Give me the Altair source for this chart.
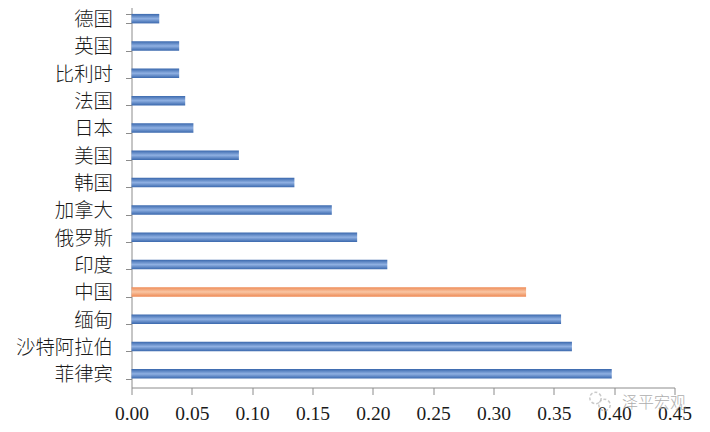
import altair as alt
import pandas as pd

categories = ["德国", "英国", "比利时", "法国", "日本", "美国", "韩国", "加拿大", "俄罗斯", "印度", "中国", "缅甸", "沙特阿拉伯", "菲律宾"]
values = [0.023, 0.0395, 0.0395, 0.0445, 0.0513, 0.089, 0.135, 0.166, 0.187, 0.212, 0.327, 0.356, 0.365, 0.398]
highlight = "中国"
x_ticks = [0.00, 0.05, 0.10, 0.15, 0.20, 0.25, 0.30, 0.35, 0.40, 0.45]
watermark = "泽平宏观"

df = pd.DataFrame({"country": categories, "value": values})

def grad(edge, mid):
    return alt.LinearGradient(
        gradient="linear", x1=0, y1=0, x2=0, y2=1,
        stops=[
            alt.GradientStop(offset=0, color=edge),
            alt.GradientStop(offset=0.5, color=mid),
            alt.GradientStop(offset=1, color=edge),
        ],
    )

x = alt.X("value:Q", scale=alt.Scale(domain=[0, 0.45], nice=False), title=None,
          axis=alt.Axis(values=x_ticks, format=".2f", grid=False, domainColor="#8c8c8c", tickColor="#8c8c8c",
                        tickSize=7, labelFont="Liberation Serif", labelFontSize=19.5, labelColor="#1a1a1a",
                        labelPadding=10, labelFlush=False, labelOverlap=False))
y = alt.Y("country:N", sort=categories, title=None,
          scale=alt.Scale(paddingInner=0.65, paddingOuter=0.325),
          axis=alt.Axis(grid=False, domainColor="#8c8c8c", tickColor="#8c8c8c", tickSize=6, tickBand="extent",
                        labelFont="Noto Sans CJK SC", labelFontSize=19.4, labelColor="#1a1a1a", labelPadding=13,
                        labelFontWeight=300, labelOffset=1))

base = alt.Chart(df).encode(x=x, y=y)
blue = base.transform_filter(alt.datum.country != highlight).mark_bar(color=grad("#3a68ad", "#8fb0e2"), size=9.5)
orange = base.transform_filter(alt.datum.country == highlight).mark_bar(color=grad("#ee8a55", "#f9c6a4"), size=9.5)

wm_text = alt.Chart(pd.DataFrame({"t": [watermark]})).mark_text(
    font="Noto Sans CJK SC", fontSize=16, color="#9a9a9a", opacity=0.8, fontWeight=300, align="center", baseline="middle"
).encode(text="t:N", x=alt.value(522.5), y=alt.value(398))

def icon(px, py):
    return alt.Chart(pd.DataFrame({"k": [0]})).mark_point(
        shape="circle", filled=False, color="#b5b5b5", strokeDash=[3, 2], strokeWidth=1.5, size=130
    ).encode(x=alt.value(px), y=alt.value(py))

chart = (
    alt.layer(blue, orange, icon(464, 393), icon(473, 400), wm_text)
    .properties(width=543, height=382.5, autosize=alt.AutoSizeParams(type="none"),
                padding={"left": 123.5, "top": -3, "right": 25, "bottom": 35})
    .configure_view(stroke=None)
)
chart.save("out.html", embed_options={"renderer": "svg", "actions": False})
